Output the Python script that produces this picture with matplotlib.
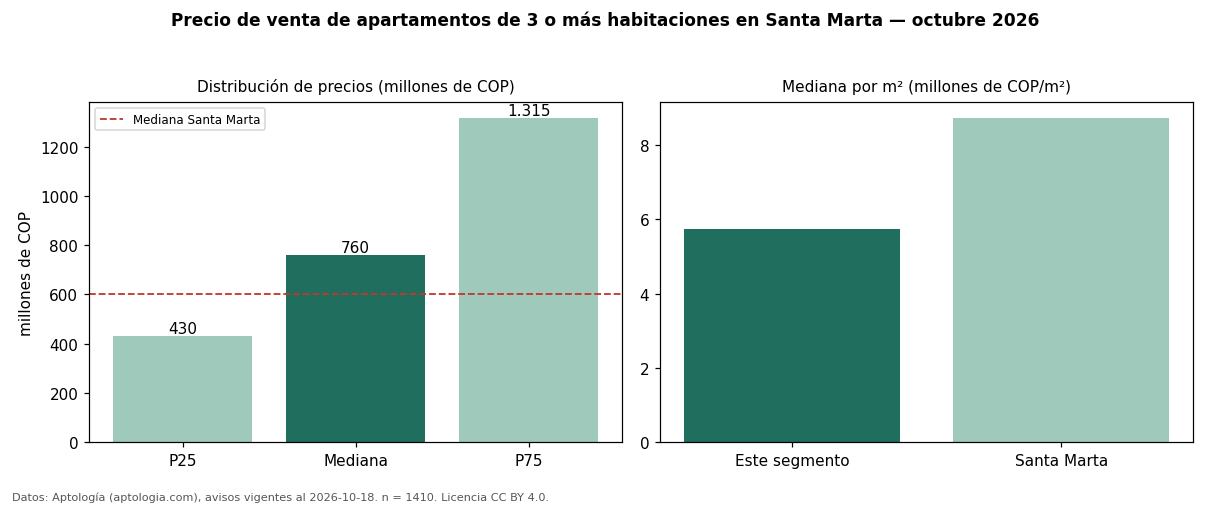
import matplotlib
matplotlib.use("Agg")
import matplotlib.pyplot as plt

plt.rcParams['font.family'] = ['DejaVu Sans']

# Data
dist_labels = ["P25", "Mediana", "P75"]
dist_values = [430, 760, 1315]
dist_text = ["430", "760", "1.315"]
city_median = 600

m2_labels = ["Este segmento", "Santa Marta"]
m2_values = [5.74, 8.73]

dark = "#1f6e5e"
light = "#9ec9bb"
red = "#c0392b"

fig, (ax1, ax2) = plt.subplots(1, 2, figsize=(11, 4.6), dpi=110)
fig.subplots_adjust(left=0.0736, right=0.986, top=0.7964, bottom=0.1245, wspace=0.0713)

colors1 = [light, dark, light]
bars = ax1.bar(range(len(dist_labels)), dist_values, width=0.8, color=colors1)
ax1.set_xticks(range(len(dist_labels)))
ax1.set_xticklabels(dist_labels)
ax1.axhline(city_median, color=red, linestyle="--", linewidth=1.2, label="Mediana Santa Marta")
for b, t in zip(bars, dist_text):
    ax1.text(b.get_x() + b.get_width() / 2, b.get_height(), t, ha="center", va="bottom", fontsize=10)
ax1.set_ylabel("millones de COP", fontsize=10)
ax1.set_title("Distribución de precios (millones de COP)", fontsize=10, pad=7)
ax1.legend(loc="upper left", fontsize=7.75)
ax1.tick_params(labelsize=10)

colors2 = [dark, light]
ax2.bar(range(len(m2_labels)), m2_values, width=0.8, color=colors2)
ax2.set_xticks(range(len(m2_labels)))
ax2.set_xticklabels(m2_labels)
ax2.set_title("Mediana por m² (millones de COP/m²)", fontsize=10, pad=7)
ax2.tick_params(labelsize=10)

fig.suptitle("Precio de venta de apartamentos de 3 o más habitaciones en Santa Marta — octubre 2026",
             fontsize=11.1, fontweight="bold", y=0.978)
fig.text(0.01, 0.01, "Datos: Aptología (aptologia.com), avisos vigentes al 2026-10-18. n = 1410. Licencia CC BY 4.0.",
         fontsize=7.35, color="#555555")

fig.savefig("out.png", dpi=110)
